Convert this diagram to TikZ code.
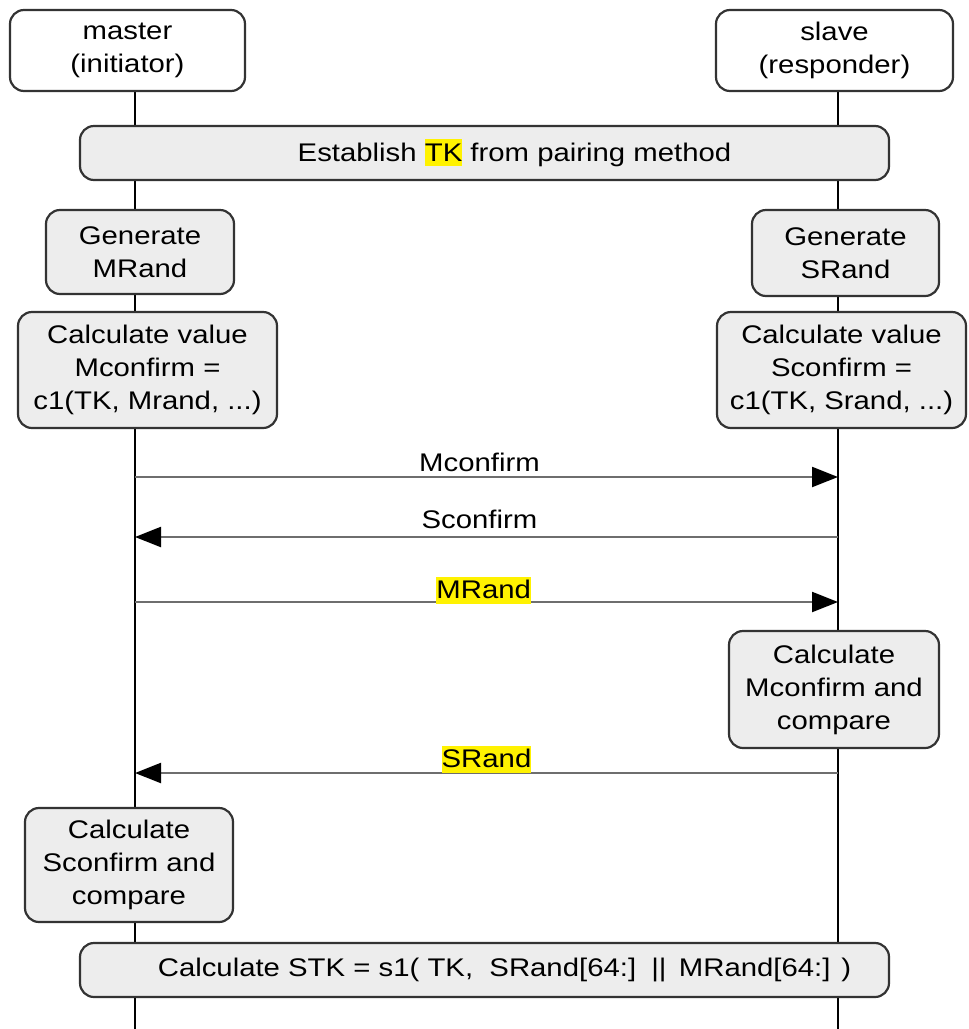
\documentclass[tikz,border=0pt]{standalone}
\usepackage{fontspec}
\setmainfont{Liberation Sans}[FakeStretch=1.15]
\usetikzlibrary{arrows.meta}
\definecolor{boxfill}{HTML}{EDEDED}
\definecolor{boxline}{HTML}{333333}
\definecolor{msgline}{HTML}{6E6E6E}
\newcommand{\hlt}[1]{{\setlength{\fboxsep}{0pt}\colorbox{yellow}{\vrule height 22pt depth 5pt width 0pt #1}}}
\begin{document}
\begin{tikzpicture}[x=1pt,y=-1pt,
  txt/.style={font=\fontsize{25.5}{33}\selectfont, align=center, inner sep=0pt},
  actor/.style={txt, draw=boxline, line width=2.2pt, fill=white, rounded corners=14pt},
  procbox/.style={txt, draw=boxline, line width=2.2pt, fill=boxfill, rounded corners=14pt},
  lifeline/.style={line width=2.6pt, black},
  msg/.style={draw=msgline, line width=2.2pt, -{Triangle[length=26pt,width=20pt,color=black]}},
  msglabel/.style={txt, anchor=south, inner sep=0pt}]
\useasboundingbox (0,0) rectangle (969,1029);

% lifeline end points and message anchors
\coordinate (mTop) at (135,91);
\coordinate (mBot) at (135,1029);
\coordinate (sTop) at (838,91);
\coordinate (sBot) at (838,1029);
\coordinate (m1) at (135,477); \coordinate (s1) at (838,477);
\coordinate (m2) at (135,537); \coordinate (s2) at (838,537);
\coordinate (m3) at (135,602); \coordinate (s3) at (838,602);
\coordinate (m4) at (135,773); \coordinate (s4) at (838,773);

% lifelines
\draw[lifeline] (mTop) -- (mBot);
\draw[lifeline] (sTop) -- (sBot);

% participants
\node[actor, minimum width=235pt, minimum height=81pt] (master) at (127.5,50.5) {master\\(initiator)};
\node[actor, minimum width=237pt, minimum height=81pt] (slave) at (834.5,50.5) {slave\\(responder)};

% shared steps
\node[procbox, minimum width=809pt, minimum height=54pt] (establish) at (484.5,153) {\hspace*{60pt}Establish \hlt{TK} from pairing method};
\node[procbox, minimum width=809pt, minimum height=54pt] (stk) at (484.5,970) {\hspace*{40pt}Calculate STK = s1( TK,\ \ SRand[64:] \,||\, MRand[64:] )};

% local steps
\node[procbox, minimum width=188pt, minimum height=84pt] (genM) at (140,252) {Generate\\MRand};
\node[procbox, minimum width=187pt, minimum height=86pt] (genS) at (845.5,253) {Generate\\SRand};
\node[procbox, minimum width=259pt, minimum height=116pt] (calcM) at (147.5,370) {Calculate value\\Mconfirm =\\c1(TK, Mrand, ...)};
\node[procbox, minimum width=249pt, minimum height=116pt] (calcS) at (841.5,370) {Calculate value\\Sconfirm =\\c1(TK, Srand, ...)};
\node[procbox, minimum width=210pt, minimum height=117pt] (cmpS) at (834,689.5) {Calculate\\Mconfirm and\\compare};
\node[procbox, minimum width=208pt, minimum height=114pt] (cmpM) at (129,865) {Calculate\\Sconfirm and\\compare};

% messages
\draw[msg] (m1) -- node[msglabel, pos=0.49, yshift=4pt] {Mconfirm} (s1);
\draw[msg] (s2) -- node[msglabel, pos=0.51, yshift=7pt] {Sconfirm} (m2);
\draw[msg] (m3) -- node[msglabel, pos=0.496, yshift=-3pt] {\hlt{MRand}} (s3);
\draw[msg] (s4) -- node[msglabel, pos=0.5, yshift=-1pt] {\hlt{SRand}} (m4);
\end{tikzpicture}
\end{document}
